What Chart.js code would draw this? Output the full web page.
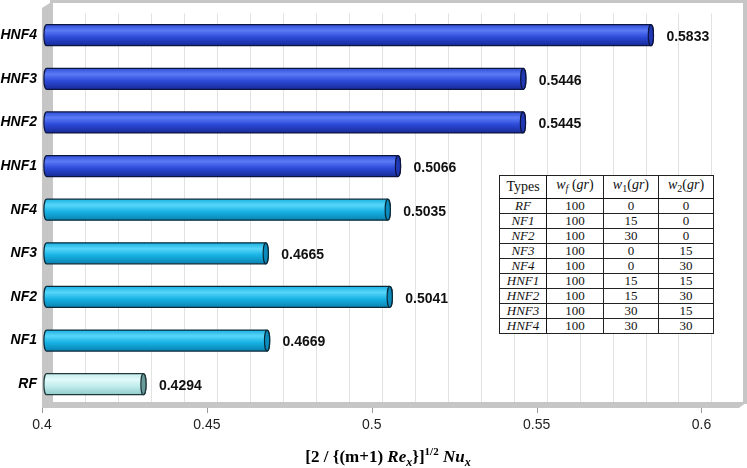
<!DOCTYPE html>
<html lang="en">
<head>
<meta charset="UTF-8">
<title>Nu_x comparison</title>
<script src="https://cdn.jsdelivr.net/npm/chart.js"></script>
<style>
  html, body { margin: 0; padding: 0; background: #fff; }
  .wrap { position: relative; width: 747px; height: 468px; }
  canvas { position: absolute; left: 0; top: 0; }
  .xtitle {
    position: absolute; left: 0; width: 776px; top: 445px; text-align: center;
    font-family: 'Liberation Serif', 'Times New Roman', serif; font-weight: bold; font-size: 17px; color: #000;
  }
  .xtitle sup { font-size: 11px; vertical-align: 7px; }
  .xtitle sub { font-size: 12px; vertical-align: -4px; }
  table.types {
    position: absolute; left: 499px; top: 175px; width: 215px;
    border-collapse: collapse; background: #fff;
    font-family: 'Liberation Serif', 'Times New Roman', serif; font-size: 13px; color: #111;
    border: 1.5px solid #111;
  }
  table.types td, table.types th {
    border: 1px solid #222; padding: 0; text-align: center; height: 14px; line-height: 14px; font-weight: normal;
  }
  table.types th { height: 22px; font-size: 14px; border-bottom: 1.5px solid #111; }
  table.types th:first-child, table.types td:first-child { border-right: 1.5px solid #111; width: 46px; }
  table.types th sub { font-size: 10px; vertical-align: -3px; }
  table.types td:first-child { font-style: italic; }
</style>
</head>
<body>
<div class="wrap">
  <canvas id="chart" width="747" height="468"></canvas>
  <table class="types" id="typesTable"></table>
  <div class="xtitle">[2 / {(m+1) <i>Re</i><sub><i>x</i></sub>}]<sup>1/2</sup> <i>Nu</i><sub><i>x</i></sub></div>
</div>

<script>
// categories, top to bottom as drawn
const categories = ['HNF4', 'HNF3', 'HNF2', 'HNF1', 'NF4', 'NF3', 'NF2', 'NF1', 'RF'];
const nuValues = [0.5833, 0.5446, 0.5445, 0.5066, 0.5035, 0.4665, 0.5041, 0.4669, 0.4294];
const xTicks = [0.4, 0.45, 0.5, 0.55, 0.6];

// inset table
const tableTypes = ['RF', 'NF1', 'NF2', 'NF3', 'NF4', 'HNF1', 'HNF2', 'HNF3', 'HNF4'];
const wf = [100, 100, 100, 100, 100, 100, 100, 100, 100];
const w1 = [0, 15, 30, 0, 0, 15, 15, 30, 30];
const w2 = [0, 0, 0, 15, 30, 15, 30, 15, 30];

const tbl = document.getElementById('typesTable');
let html = '<tr><th>Types</th><th><i>w</i><sub><i>f</i></sub> (<i>gr</i>)</th>' +
  '<th><i>w</i><sub>1</sub>(<i>gr</i>)</th><th><i>w</i><sub>2</sub>(<i>gr</i>)</th></tr>';
tableTypes.forEach((t, i) => {
  html += '<tr><td>' + t + '</td><td>' + wf[i] + '</td><td>' + w1[i] + '</td><td>' + w2[i] + '</td></tr>';
});
tbl.innerHTML = html;

// colour sets for the cylinders: [top, highlight, middle, bottom, cap, edge]
function palette(name) {
  if (name.startsWith('HNF')) return ['#3050d8', '#5a7af6', '#2c4ad8', '#162a96', '#2038b4', '#0c1440'];
  if (name.startsWith('NF')) return ['#1ab0e0', '#58d6fa', '#16b2e4', '#0a82b0', '#0b8cbc', '#0a2a3a'];
  return ['#c4ecec', '#e2fafa', '#c0ecec', '#92cccc', '#6a9c9c', '#203838'];
}

const depth = 10;   // 3D offset of back wall
const shift = 4.5;  // bars sit halfway in depth

const framePlugin = {
  id: 'frame',
  beforeDatasetsDraw(chart) {
    const { ctx, chartArea: a, scales: { x } } = chart;
    ctx.save();
    // gridlines on back wall
    ctx.strokeStyle = '#e2e2e2';
    ctx.lineWidth = 1;
    for (let k = 1; k <= 21; k++) {
      const px = Math.round(x.getPixelForValue(0.4 + k * 0.01) + depth) + 0.5;
      if (px > a.right) break;
      ctx.beginPath();
      ctx.moveTo(px, a.top);
      ctx.lineTo(px, a.bottom - 4);
      ctx.stroke();
    }
    ctx.fillStyle = '#c6c6c6';
    // top and right border of back wall
    ctx.fillRect(a.left + 8, 0, a.right - a.left, 3);
    ctx.fillRect(a.right, 0, 4, a.bottom - 2);
    // left wall
    ctx.beginPath();
    ctx.moveTo(a.left, 8);
    ctx.lineTo(a.left + 11, 1);
    ctx.lineTo(a.left + 11, a.bottom);
    ctx.lineTo(a.left, a.bottom);
    ctx.closePath();
    ctx.fill();
    // floor
    ctx.beginPath();
    ctx.moveTo(a.left, a.bottom - 4);
    ctx.lineTo(a.right + 4, a.bottom - 4);
    ctx.lineTo(a.right - 4, a.bottom + 2);
    ctx.lineTo(a.left, a.bottom + 2);
    ctx.closePath();
    ctx.fill();
    // tick marks
    ctx.strokeStyle = '#9a9a9a';
    xTicks.forEach(v => {
      const px = Math.round(x.getPixelForValue(v)) + 0.5;
      ctx.beginPath();
      ctx.moveTo(px, a.bottom + 2);
      ctx.lineTo(px, a.bottom + 7);
      ctx.stroke();
    });
    ctx.restore();
  },
  afterDatasetsDraw(chart) {
    const { ctx, scales: { x } } = chart;
    const meta = chart.getDatasetMeta(0);
    const basePx = x.getPixelForValue(x.min);
    ctx.save();
    meta.data.forEach((el, i) => {
      const pal = palette(categories[i]);
      const h = el.height, yc = el.y;
      const x0 = basePx + shift, x1 = el.x + shift;
      const r = 2.6, top = yc - h / 2, bot = yc + h / 2;
      const g = ctx.createLinearGradient(0, top, 0, bot);
      g.addColorStop(0, pal[0]);
      g.addColorStop(0.28, pal[1]);
      g.addColorStop(0.6, pal[2]);
      g.addColorStop(1, pal[3]);
      ctx.beginPath();
      ctx.moveTo(x0, top);
      ctx.lineTo(x1, top);
      ctx.ellipse(x1, yc, r, h / 2, 0, -Math.PI / 2, Math.PI / 2, false);
      ctx.lineTo(x0, bot);
      ctx.ellipse(x0, yc, r, h / 2, 0, Math.PI / 2, Math.PI * 1.5, false);
      ctx.closePath();
      ctx.fillStyle = g;
      ctx.fill();
      ctx.strokeStyle = pal[5];
      ctx.lineWidth = 1.2;
      ctx.stroke();
      // end cap
      ctx.beginPath();
      ctx.ellipse(x1, yc, r, h / 2, 0, 0, Math.PI * 2);
      ctx.fillStyle = pal[4];
      ctx.fill();
      ctx.stroke();
      // value label
      ctx.fillStyle = '#111';
      ctx.font = 'bold 14px "Liberation Sans", Arial, sans-serif';
      ctx.textBaseline = 'middle';
      ctx.textAlign = 'left';
      ctx.fillText(nuValues[i].toFixed(4), el.x + 20, yc + 2);
    });
    ctx.restore();
  }
};

new Chart(document.getElementById('chart'), {
  type: 'bar',
  data: {
    labels: categories,
    datasets: [{
      data: nuValues,
      base: 0.4,
      backgroundColor: 'rgba(0,0,0,0)',
      borderWidth: 0,
      barThickness: 21
    }]
  },
  options: {
    indexAxis: 'y',
    responsive: false,
    animation: false,
    layout: { padding: { top: 3, right: 4, bottom: 32, left: 0 } },
    plugins: { legend: { display: false }, tooltip: { enabled: false } },
    scales: {
      x: {
        type: 'linear',
        min: 0.4,
        max: 0.6126,
        afterFit: s => { s.height = 30; },
        afterBuildTicks: s => { s.ticks = xTicks.map(v => ({ value: v })); },
        grid: { display: false, drawTicks: false },
        border: { display: false },
        ticks: {
          padding: 11,
          color: '#222',
          font: { family: '"Liberation Sans", Arial, sans-serif', size: 14 },
          callback: v => String(v)
        }
      },
      y: {
        afterFit: s => { s.width = 42; },
        grid: { display: false, drawTicks: false },
        border: { display: false },
        ticks: {
          padding: 5,
          color: '#000',
          font: { family: '"Liberation Sans", Arial, sans-serif', size: 14, weight: 'bold', style: 'italic' }
        }
      }
    }
  },
  plugins: [framePlugin]
});
</script>
</body>
</html>
